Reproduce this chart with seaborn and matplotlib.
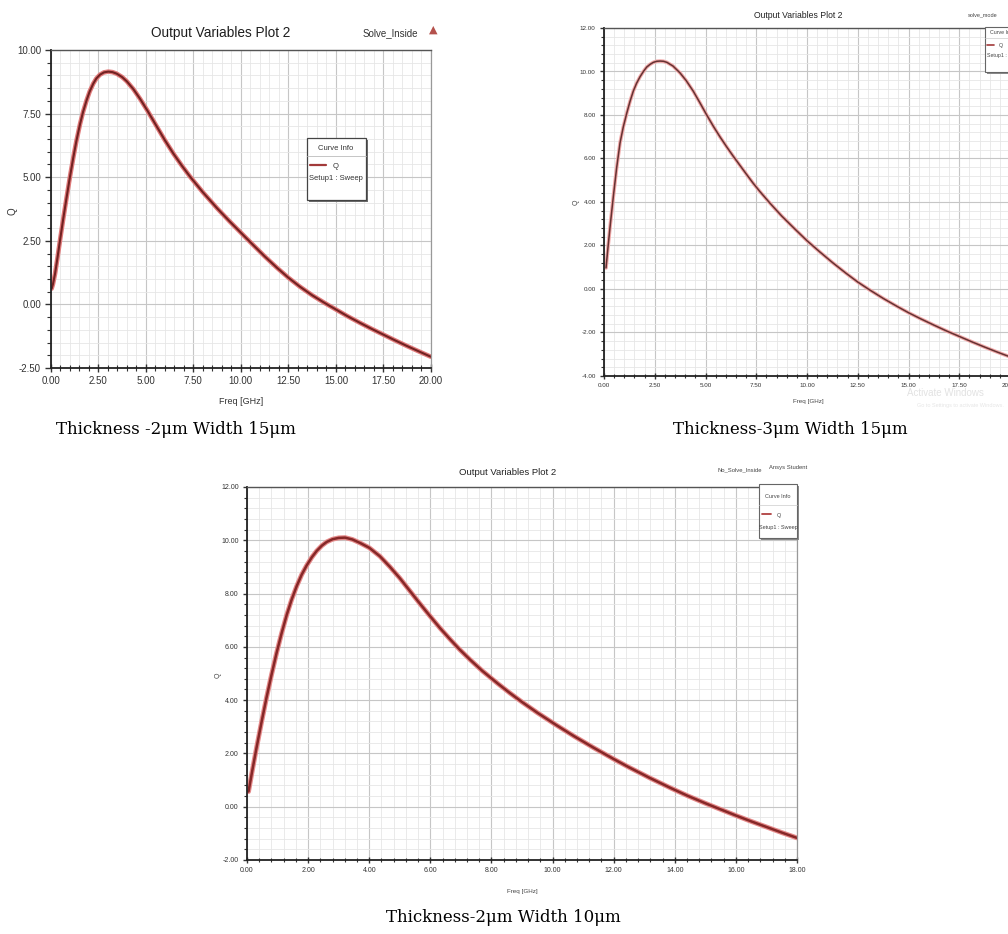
import numpy as np
import pandas as pd
import matplotlib
matplotlib.use("Agg")
import matplotlib.pyplot as plt
import matplotlib.patheffects as pe
from matplotlib.ticker import MultipleLocator, AutoMinorLocator, FormatStrFormatter
from matplotlib.patches import Rectangle
from matplotlib.lines import Line2D
import seaborn as sns

# ---------------- data ----------------
freq1 = [0.05, 0.12, 0.23, 0.35, 0.49, 0.65, 0.84, 1.00, 1.19, 1.35, 1.54, 1.70, 1.89,
         2.05, 2.24, 2.40, 2.59, 2.80, 3.03, 3.25, 3.47, 3.75, 4.00, 4.35, 4.70, 5.10,
         5.58, 6.00, 6.45, 6.90, 7.33, 8.00, 8.75, 9.40, 10.00, 10.60, 11.25, 11.90,
         12.50, 13.10, 13.75, 14.40, 15.00, 15.60, 16.25, 16.90, 17.50, 18.10, 18.75,
         19.40, 20.00]
q1 = [0.62, 0.80, 1.21, 1.80, 2.52, 3.32, 4.22, 4.96, 5.78, 6.42, 7.08, 7.56, 8.03,
      8.37, 8.68, 8.88, 9.03, 9.12, 9.15, 9.13, 9.07, 8.94, 8.77, 8.46, 8.08, 7.60,
      6.99, 6.46, 5.93, 5.45, 5.02, 4.41, 3.78, 3.27, 2.82, 2.37, 1.89, 1.44,
      1.05, 0.70, 0.36, 0.06, -0.20, -0.46, -0.72, -0.97, -1.19, -1.41, -1.64,
      -1.86, -2.06]

freq2 = [0.10, 0.20, 0.32, 0.46, 0.62, 0.79, 0.95, 1.12, 1.28, 1.44, 1.60, 1.77, 1.94,
         2.10, 2.27, 2.43, 2.60, 2.76, 2.93, 3.10, 3.40, 3.74, 4.05, 4.40, 4.72, 5.06,
         5.40, 5.71, 6.04, 6.37, 6.70, 7.03, 7.35, 7.68, 8.20, 8.75, 9.40, 10.00, 10.60,
         11.25, 11.90, 12.50, 13.10, 13.75, 14.40, 15.00, 15.60, 16.25, 16.90, 17.50,
         18.15, 18.75, 19.40, 20.00]
q2 = [0.97, 1.95, 3.05, 4.25, 5.55, 6.72, 7.45, 8.08, 8.62, 9.09, 9.45, 9.75, 10.00,
      10.20, 10.33, 10.42, 10.47, 10.48, 10.47, 10.42, 10.25, 9.94, 9.58, 9.09, 8.57, 8.00,
      7.46, 7.00, 6.54, 6.10, 5.68, 5.26, 4.86, 4.48, 3.92, 3.36, 2.76, 2.22, 1.73,
      1.22, 0.74, 0.32, -0.05, -0.43, -0.78, -1.09, -1.37, -1.66, -1.94, -2.18,
      -2.44, -2.67, -2.91, -3.12]

freq3 = [0.05, 0.18, 0.32, 0.48, 0.64, 0.80, 0.97, 1.13, 1.30, 1.46, 1.63, 1.79, 1.95,
         2.12, 2.28, 2.45, 2.61, 2.80, 3.00, 3.21, 3.45, 3.70, 4.00, 4.35, 4.68, 5.00,
         5.33, 5.66, 6.00, 6.32, 6.65, 6.96, 7.30, 7.70, 8.21, 8.60, 9.00, 9.50, 10.10,
         10.70, 11.35, 12.00, 12.50, 13.20, 13.87, 14.40, 15.00, 15.50, 16.00, 16.50,
         17.00, 17.50, 18.00]
q3 = [0.57, 1.40, 2.26, 3.20, 4.10, 4.94, 5.78, 6.50, 7.20, 7.77, 8.29, 8.71, 9.05,
      9.36, 9.60, 9.80, 9.94, 10.04, 10.09, 10.10, 10.03, 9.90, 9.72, 9.40, 9.00, 8.58,
      8.10, 7.62, 7.14, 6.70, 6.28, 5.90, 5.52, 5.10, 4.62, 4.27, 3.93, 3.53, 3.08,
      2.65, 2.21, 1.79, 1.48, 1.07, 0.70, 0.42, 0.13, -0.10, -0.33, -0.55,
      -0.76, -0.97, -1.17]

captions = ["Thickness -2\u03bcm Width 15\u03bcm",
            "Thickness-3\u03bcm Width 15\u03bcm",
            "Thickness-2\u03bcm Width 10\u03bcm"]
title_text = "Output Variables Plot 2"

# ---------------- styling ----------------
sns.set_theme(style="white")
SANS = ["Liberation Sans", "DejaVu Sans"]
plt.rcParams["font.family"] = SANS

W, H = 1008, 934
fig = plt.figure(figsize=(W / 100, H / 100), dpi=100)
fig.patch.set_facecolor("white")


def px_axes(x0, y0, x1, y1):
    return fig.add_axes([x0 / W, 1 - y1 / H, (x1 - x0) / W, (y1 - y0) / H])


def ftext(x, y, s, **kw):
    kw.setdefault("ha", "center")
    kw.setdefault("va", "center")
    return fig.text(x / W, 1 - y / H, s, **kw)


def frect(x0, y0, x1, y1, **kw):
    r = Rectangle((x0 / W, 1 - y1 / H), (x1 - x0) / W, (y1 - y0) / H,
                  transform=fig.transFigure, **kw)
    fig.patches.append(r)
    return r


def fline(x0, y0, x1, y1, **kw):
    l = Line2D([x0 / W, x1 / W], [1 - y0 / H, 1 - y1 / H], transform=fig.transFigure, **kw)
    fig.lines.append(l)
    return l


def style_axes(ax, xmaj, ymaj, xlim, ylim, tick_fs, maj_len, min_len):
    ax.set_xlim(*xlim)
    ax.set_ylim(*ylim)
    ax.xaxis.set_major_locator(MultipleLocator(xmaj))
    ax.yaxis.set_major_locator(MultipleLocator(ymaj))
    ax.xaxis.set_minor_locator(AutoMinorLocator(5))
    ax.yaxis.set_minor_locator(AutoMinorLocator(5))
    ax.xaxis.set_major_formatter(FormatStrFormatter("%.2f"))
    ax.yaxis.set_major_formatter(FormatStrFormatter("%.2f"))
    ax.grid(which="major", color="#c6c6c6", lw=0.8)
    ax.grid(which="minor", color="#e6e6e6", lw=0.6)
    ax.set_axisbelow(True)
    ax.tick_params(axis="y", which="major", direction="out", length=maj_len, width=1.0,
                   color="#333333", labelsize=tick_fs, labelcolor="#333333", pad=3, left=True)
    ax.tick_params(axis="y", which="minor", direction="out", length=min_len, width=0.8,
                   color="#333333", left=True)
    ax.tick_params(axis="x", which="major", direction="inout", length=maj_len * 1.5, width=1.0,
                   color="#333333", labelsize=tick_fs, labelcolor="#333333", pad=3, bottom=True)
    ax.tick_params(axis="x", which="minor", direction="inout", length=min_len * 1.5, width=0.8,
                   color="#333333", bottom=True)
    for s in ["left", "bottom"]:
        ax.spines[s].set_color("#222222")
        ax.spines[s].set_linewidth(1.3)
    ax.spines["top"].set_color("#555555")
    ax.spines["top"].set_linewidth(1.0)
    ax.spines["right"].set_color("#999999")
    ax.spines["right"].set_linewidth(0.9)
    ax.set_xlabel("")
    ax.set_ylabel("")


def draw_curve(ax, f, q, core, halo, lw, hw):
    df = pd.DataFrame({"Freq": f, "Q": q})
    sns.lineplot(data=df, x="Freq", y="Q", ax=ax, color=core, lw=lw, estimator=None, sort=False)
    ln = ax.lines[-1]
    ln.set_path_effects([pe.Stroke(linewidth=hw, foreground=halo), pe.Normal()])
    ln.set_solid_capstyle("round")
    ln.set_solid_joinstyle("round")


# ---------------- panel 1 ----------------
ax1 = px_axes(50.7, 50, 431, 368)
draw_curve(ax1, freq1, q1, "#722222", "#e07a7a", 1.5, 3.3)
style_axes(ax1, 2.5, 2.5, (0, 20), (-2.5, 10), 7, 4, 3)
ftext(221, 33, title_text, fontsize=9.8, color="#1e1e1e")
ftext(390, 33, "Solve_Inside", fontsize=7, color="#333333")
ftext(433, 30, "\u25b2", fontsize=8, color="#b4514c", family="DejaVu Sans")
ftext(241, 402, "Freq [GHz]", fontsize=6.5, color="#333333")
ftext(12, 211, "Q", fontsize=7, rotation=90, color="#333333")
# curve-info box
frect(309, 140, 368, 202, facecolor="#6f6f6f", edgecolor="none", zorder=5)
frect(307, 138, 366, 200, facecolor="white", edgecolor="#444444", lw=0.9, zorder=6)
fline(307, 156, 366, 156, color="#bbbbbb", lw=0.6, zorder=7)
ftext(336, 148, "Curve Info", fontsize=5.5, color="#333333", zorder=7)
fline(310, 164.5, 326, 164.5, color="#a23a3a", lw=1.6, zorder=7)
ftext(336, 166, "Q", fontsize=5.5, color="#333333", zorder=7)
ftext(336, 179, "Setup1 : Sweep", fontsize=5.5, color="#333333", zorder=7)
ftext(176, 430, captions[0], fontsize=12, family="DejaVu Serif", color="black")

# ---------------- panel 2 (cropped at the right edge) ----------------
ax2 = px_axes(604, 28, 1010, 376)
draw_curve(ax2, freq2, q2, "#653232", "#f0a8a8", 1.1, 2.6)
style_axes(ax2, 2.5, 2.0, (0, 20), (-4, 12), 4.5, 3, 2)
ftext(798, 15, title_text, fontsize=6.2, color="#222222")
ftext(983, 15, "solve_mode", fontsize=4, color="#444444")
ftext(808, 401, "Freq [GHz]", fontsize=4.5, color="#444444")
ftext(576, 202, "Q", fontsize=5, rotation=90, color="#444444")
frect(987, 29, 1012, 74, facecolor="#8a8a8a", edgecolor="none", zorder=5)
frect(985, 27, 1012, 72, facecolor="white", edgecolor="#666666", lw=0.8, zorder=6)
fline(985, 38, 1012, 38, color="#cccccc", lw=0.5, zorder=7)
ftext(990, 33, "Curve Info", fontsize=3.8, color="#444444", ha="left", zorder=7)
fline(987, 45, 994, 45, color="#a23a3a", lw=1.2, zorder=7)
ftext(999, 46, "Q", fontsize=3.8, color="#444444", ha="left", zorder=7)
ftext(987, 56, "Setup1 : Sweep", fontsize=3.8, color="#444444", ha="left", zorder=7)
ftext(945, 393, "Activate Windows", fontsize=7, color="#e2e2e2")
ftext(960, 406, "Go to Settings to activate Windows.", fontsize=4, color="#e6e6e6")
ftext(790, 430, captions[1], fontsize=12, family="DejaVu Serif", color="black")

# ---------------- panel 3 ----------------
ax3 = px_axes(247, 487, 797, 860)
draw_curve(ax3, freq3, q3, "#862828", "#e58a8a", 1.8, 3.5)
style_axes(ax3, 2.0, 2.0, (0, 18), (-2, 12), 5, 3, 2)
ftext(508, 472, title_text, fontsize=6.8, color="#222222")
ftext(740, 470, "No_Solve_Inside", fontsize=4.2, color="#444444")
ftext(788, 468, "Ansys Student", fontsize=4.2, color="#444444")
ftext(522, 892, "Freq [GHz]", fontsize=4.5, color="#444444")
ftext(218, 675, "Q", fontsize=5, rotation=90, color="#444444")
frect(761, 486, 799, 540, facecolor="#8a8a8a", edgecolor="none", zorder=5)
frect(759, 484, 797, 538, facecolor="white", edgecolor="#666666", lw=0.8, zorder=6)
fline(759, 505, 797, 505, color="#cccccc", lw=0.5, zorder=7)
ftext(778, 497, "Curve Info", fontsize=4, color="#444444", zorder=7)
fline(762, 514, 771, 514, color="#b04040", lw=1.3, zorder=7)
ftext(777, 515, "Q", fontsize=4, color="#444444", ha="left", zorder=7)
ftext(778, 527, "Setup1 : Sweep", fontsize=4, color="#444444", zorder=7)
ftext(503, 918, captions[2], fontsize=12, family="DejaVu Serif", color="black")

fig.savefig("out.png", dpi=100, facecolor="white")
